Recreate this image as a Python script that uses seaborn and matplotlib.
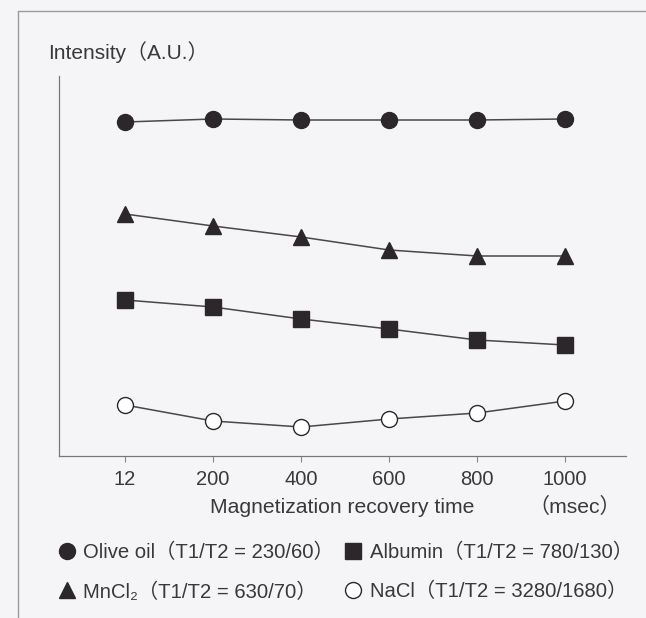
import matplotlib
matplotlib.use("Agg")
import matplotlib.pyplot as plt
import seaborn as sns
import pandas as pd
from matplotlib.lines import Line2D

# ---- data ----
times = [12, 200, 400, 600, 800, 1000]
olive_oil = [334, 337, 336, 336, 336, 337]
mncl2 = [242, 230, 219, 206, 200, 200]
albumin = [156, 149, 137, 127, 116, 111]
nacl = [51, 35, 29, 37, 43, 55]
series_names = ["Olive oil", "MnCl2", "Albumin", "NaCl"]
legend_labels = ["Olive oil（T1/T2 = 230/60）", "MnCl₂（T1/T2 = 630/70）",
                 "Albumin（T1/T2 = 780/130）", "NaCl（T1/T2 = 3280/1680）"]

# ---- styles ----
bg = "#f5f4f7"
ink = "#2b272a"
txt = "#3a3839"
line_c = "#4a4649"
markers = {"Olive oil": "o", "MnCl2": "^", "Albumin": "s", "NaCl": "o"}
faces = {"Olive oil": ink, "MnCl2": ink, "Albumin": ink, "NaCl": "white"}
sizes = {"Olive oil": 11.5, "MnCl2": 12, "Albumin": 11.5, "NaCl": 11.5}

rows = []
for name, vals in zip(series_names, [olive_oil, mncl2, albumin, nacl]):
    for i, (t, v) in enumerate(zip(times, vals)):
        rows.append({"sample": name, "pos": i, "time": t, "intensity": v})
df = pd.DataFrame(rows)

sns.set_theme(style="white")
plt.rcParams["font.family"] = ["Liberation Sans", "Noto Sans CJK JP", "DejaVu Sans"]

W, H = 646, 618
fig = plt.figure(figsize=(W / 100, H / 100), dpi=100, facecolor=bg)
ax = fig.add_axes([59 / W, 1 - 456 / H, (626 - 59) / W, (456 - 76) / H])
ax.set_facecolor(bg)

for name in series_names:
    sub = df[df["sample"] == name]
    sns.lineplot(data=sub, x="pos", y="intensity", ax=ax, color=line_c,
                 linewidth=1.1, marker=markers[name], markersize=sizes[name],
                 markerfacecolor=faces[name], markeredgecolor=ink,
                 markeredgewidth=1.0, legend=False, zorder=3)

ax.set_xlim(-0.75, 5.69)
ax.set_ylim(0, 380)
ax.set_xticks(range(len(times)))
ax.set_xticklabels([str(t) for t in times])
ax.set_yticks([])
ax.set_xlabel("")
ax.set_ylabel("")
for s in ["top", "right"]:
    ax.spines[s].set_visible(False)
for s in ["left", "bottom"]:
    ax.spines[s].set_color("#7a7779")
    ax.spines[s].set_linewidth(0.9)
ax.tick_params(axis="x", direction="out", length=4, width=0.8, color="#8a8789",
               pad=6, labelsize=14.5, labelcolor=txt, bottom=True)

fig.text(48 / W, 1 - 52 / H, "Intensity（A.U.）", ha="left", va="center",
         fontsize=15, color=txt)
fig.text(342 / W, 1 - 513 / H, "Magnetization recovery time", ha="center",
         va="baseline", fontsize=15.2, color=txt)
fig.text(621 / W, 1 - 513 / H, "（msec）", ha="right", va="baseline",
         fontsize=15.2, color=txt)

# outer frame (top and left edges)
fig.add_artist(Line2D([18 / W, 1], [1 - 11 / H, 1 - 11 / H], transform=fig.transFigure,
                      color="#9c9a9c", lw=1.0))
fig.add_artist(Line2D([18 / W, 18 / W], [1 - 11 / H, 0], transform=fig.transFigure,
                      color="#9c9a9c", lw=1.0))

# legend (column-major order for ncol=2)
handles = [Line2D([], [], ls="none", marker=markers[n], markersize=sizes[n],
                  markerfacecolor=faces[n], markeredgecolor=ink, markeredgewidth=1.0)
           for n in series_names]
leg = fig.legend(handles, legend_labels, ncol=2, loc="upper left",
                 bbox_to_anchor=(57 / W, 1 - 543 / H), frameon=False,
                 fontsize=14.6, handlelength=1.0, handletextpad=0.3,
                 columnspacing=0.45, labelspacing=0.98, borderpad=0,
                 borderaxespad=0, labelcolor=txt)

fig.savefig("out.png", dpi=100, facecolor=bg)
